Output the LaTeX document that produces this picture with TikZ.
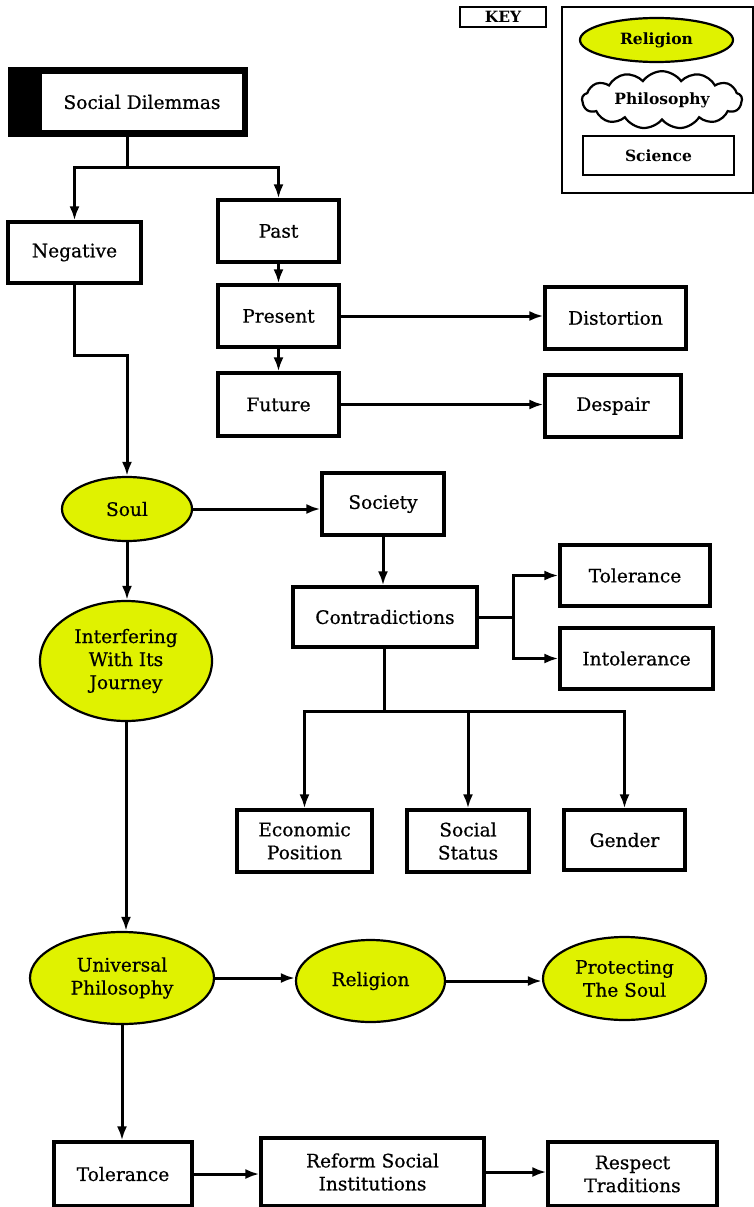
\documentclass[tikz,border=0pt]{standalone}
\usepackage{fontspec}
\setmainfont{DejaVu Serif}
\newfontfamily\heavyserif{DejaVu Serif}[FakeBold=0.6]
\usetikzlibrary{arrows.meta,shapes.geometric,shapes.symbols}
\definecolor{soulyellow}{RGB}{224,242,0}
\tikzset{every picture/.style={line width=3pt}}
\tikzset{
  box/.style={draw, line width=3.2pt, fill=white, align=center, inner sep=0pt,
    font=\heavyserif\fontsize{18.6}{23}\selectfont},
  oval/.style={ellipse, draw, line width=2.2pt, fill=soulyellow, align=center,
    inner sep=0pt, font=\heavyserif\fontsize{18.6}{23}\selectfont},
  link/.style={-{Latex[length=14pt,width=10pt]}},
  keytext/.style={font=\fontsize{15.5}{18}\selectfont\bfseries}
}

\begin{document}
\begin{tikzpicture}[x=1pt,y=-1pt]
\useasboundingbox (0,0) rectangle (754,1207);

% key
\node[draw, line width=1.6pt, minimum width=86, minimum height=20, inner sep=0pt, keytext] (key) at (503,17) {KEY};
\node[draw, line width=1.6pt, minimum width=191, minimum height=186] (keyframe) at (657.5,100) {};
\node[oval, minimum width=153, minimum height=44, keytext] (keyrel) at (656.5,40) {Religion};
\node[cloud, draw, line width=2.2pt, cloud puffs=13, cloud puff arc=110, aspect=3.2,
  minimum width=160, minimum height=50, inner sep=0pt, keytext] (keyphil) at (662,100) {Philosophy};
\node[box, line width=2.6pt, minimum width=151, minimum height=39, keytext] (keysci) at (658.5,155.5) {Science};

% top branch
\node[draw, fill=black, line width=1pt, minimum width=239, minimum height=68] (sd) at (127.5,102) {};
\node[fill=white, minimum width=200, minimum height=56, inner sep=0pt,
  font=\heavyserif\fontsize{18.6}{23}\selectfont] (sdlabel) at (142,102) {Social Dilemmas};
\node[box, minimum width=133, minimum height=61] (neg) at (74.5,252.5) {Negative};
\node[box, minimum width=121, minimum height=62] (past) at (278.5,231) {Past};
\node[box, minimum width=121, minimum height=62] (present) at (278.5,316) {Present};
\node[box, minimum width=121, minimum height=63] (future) at (278.5,404.5) {Future};
\node[box, minimum width=141, minimum height=62] (distortion) at (615.5,318) {Distortion};
\node[box, minimum width=136, minimum height=62] (despair) at (613,406) {Despair};

\coordinate (sdsplit) at (127.5,167);
\draw (sd.south) -- (sdsplit);
\draw[link] (sdsplit) -| (neg.north);
\draw[link] (sdsplit) -| (past.north);
\draw[link] (past) -- (present);
\draw[link] (present) -- (future);
\draw[link] (present.east) -- (present.east -| distortion.west);
\draw[link] (future.east) -- (future.east -| despair.west);

% soul and society
\node[oval, minimum width=130, minimum height=64] (soul) at (127,509) {Soul};
\node[oval, minimum width=172, minimum height=120] (interf) at (126,661) {Interfering\\With Its\\Journey};
\node[box, minimum width=122, minimum height=62] (society) at (383,504) {Society};
\node[box, minimum width=184, minimum height=60] (contra) at (385,617) {Contradictions};
\node[box, minimum width=150, minimum height=61] (tol) at (635,575.5) {Tolerance};
\node[box, minimum width=153, minimum height=61] (intol) at (636.5,658.5) {Intolerance};
\node[box, minimum width=135, minimum height=62] (econ) at (304.5,841) {Economic\\Position};
\node[box, minimum width=122, minimum height=62] (status) at (468,841) {Social\\Status};
\node[box, minimum width=121, minimum height=60] (gender) at (624.5,840) {Gender};

\coordinate (negbend) at (74.5,355);
\draw[link] (neg.south) -- (negbend) -| (soul.north);
\draw[link] (soul.east) -- (soul.east -| society.west);
\draw[link] (society.south) -- (society.south |- contra.north);
\coordinate (contrasplit) at (513,617);
\draw (contra.east) -- (contrasplit);
\draw[link] (contrasplit) |- (tol.west);
\draw[link] (contrasplit) |- (intol.west);
\coordinate (contrabase) at (384,711);
\draw (contra.south -| contrabase) -- (contrabase);
\draw[link] (contrabase) -| (econ.north);
\draw[link] (contrabase) -| (status.north);
\draw[link] (contrabase) -| (gender.north);
\draw[link] (soul.south) -- (soul.south |- interf.north);

% bottom rows
\node[oval, minimum width=184, minimum height=92] (univ) at (122,978) {Universal\\Philosophy};
\node[oval, minimum width=149, minimum height=82] (religion) at (370.5,981) {Religion};
\node[oval, minimum width=163, minimum height=83] (protect) at (624.5,978.5) {Protecting\\The Soul};
\node[box, minimum width=138, minimum height=64] (tol2) at (123,1174) {Tolerance};
\node[box, minimum width=223, minimum height=68] (reform) at (372.5,1172) {Reform Social\\Institutions};
\node[box, minimum width=169, minimum height=64] (respect) at (632.5,1174) {Respect\\Traditions};

\draw[link] (interf.south) -- (interf.south |- univ.north);
\draw[link] (univ.east) -- (univ.east -| religion.west);
\draw[link] (religion.east) -- (religion.east -| protect.west);
\draw[link] (univ.south) -- (univ.south |- tol2.north);
\draw[link] (tol2.east) -- (tol2.east -| reform.west);
\draw[link] (reform.east) -- (reform.east -| respect.west);
\end{tikzpicture}
\end{document}
